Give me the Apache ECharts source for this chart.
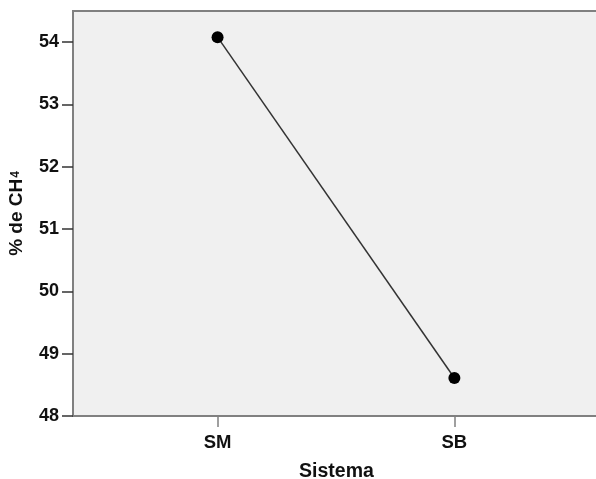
<!DOCTYPE html>
<html>
<head>
<meta charset="utf-8">
<script src="https://cdn.jsdelivr.net/npm/echarts@6/dist/echarts.min.js"></script>
<style>html,body{margin:0;padding:0;background:#fff;}#c{width:596px;height:479px;}</style>
</head>
<body>
<div id="c"></div>
<script>
const categories = ['SM', 'SB'];
const values = [54.08, 48.61];
const yTicks = [48, 49, 50, 51, 52, 53, 54];

const chart = echarts.init(document.getElementById('c'), null, {renderer: 'canvas'});
const font = 'Liberation Sans, Arial, sans-serif';
chart.setOption({
  animation: false,
  grid: {
    left: 73, right: -4, top: 11, bottom: 63,
    outerBoundsMode: 'none', containLabel: false,
    show: true, backgroundColor: '#f0f0f0', borderColor: '#808080', borderWidth: 2
  },
  xAxis: {
    type: 'value',
    min: -0.6105, max: 1.615,
    name: 'Sistema', nameLocation: 'middle', nameGap: 46,
    nameTextStyle: {fontFamily: font, fontWeight: 'bold', fontSize: 19.5, color: '#111'},
    axisLine: {show: true, onZero: false, lineStyle: {color: '#808080', width: 2}},
    axisTick: {show: true, length: 11, lineStyle: {color: '#808080', width: 1.5}, customValues: categories.map((c, i) => i)},
    axisLabel: {
      customValues: categories.map((c, i) => i),
      formatter: v => categories[Math.round(v)] || '',
      margin: 17, fontFamily: font, fontWeight: 'bold', fontSize: 18.5, color: '#111'
    },
    splitLine: {show: false}
  },
  yAxis: {
    type: 'value',
    min: 48, max: 54.5,
    name: '% de CH{sub|4}', nameLocation: 'middle', nameGap: 42, nameRotate: 90,
    nameTextStyle: {fontFamily: font, fontWeight: 'bold', fontSize: 19, color: '#111', lineHeight: 22,
      rich: {sub: {fontFamily: font, fontWeight: 'bold', fontSize: 12, color: '#111', verticalAlign: 'top', lineHeight: 22, padding: [4, 0, 0, 1]}}},
    axisLine: {show: true, onZero: false, lineStyle: {color: '#808080', width: 2}},
    axisTick: {show: true, length: 11, lineStyle: {color: '#333', width: 1.5}, customValues: yTicks},
    axisLabel: {customValues: yTicks, margin: 14, fontFamily: font, fontWeight: 'bold', fontSize: 18, color: '#111'},
    splitLine: {show: false}
  },
  series: [{
    type: 'line',
    data: values.map((v, i) => [i, v]),
    symbol: 'circle', symbolSize: 12,
    itemStyle: {color: '#000'},
    lineStyle: {color: '#333', width: 1.5}
  }]
});
</script>
</body>
</html>
